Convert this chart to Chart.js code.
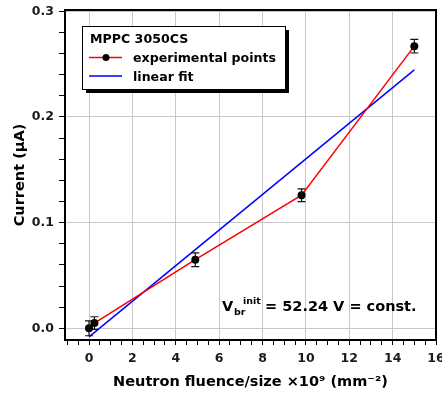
<!DOCTYPE html>
<html>
<head>
<meta charset="utf-8">
<script src="https://cdn.jsdelivr.net/npm/chart.js@4.4.0/dist/chart.umd.min.js"></script>
<style>
html, body { margin: 0; padding: 0; background: #fff; }
</style>
</head>
<body>
<canvas id="mppcChart" width="442" height="394"></canvas>
<script>
// values
const fluence = [0, 0.25, 4.9, 9.8, 15.0];
const current = [0.000, 0.005, 0.065, 0.126, 0.267];
const currentErr = [0.007, 0.006, 0.0065, 0.006, 0.0065];
const fitFluence = [0, 15];
const fitCurrent = [-0.008, 0.2445];
const xTickLabels = [0, 2, 4, 6, 8, 10, 12, 14, 16];
const yTickLabels = [0.0, 0.1, 0.2, 0.3];
const legendTitle = 'MPPC 3050CS';

const FONT = 'DejaVu Sans';

const isMajor = (v, list) => list.some(t => Math.abs(t - v) < 1e-6);

let expPoints = [];
for (let i = 0; i < fluence.length; i++) {
    expPoints.push({ x: fluence[i], y: current[i] });
}
let fitPoints = [];
for (let i = 0; i < fitFluence.length; i++) {
    fitPoints.push({ x: fitFluence[i], y: fitCurrent[i] });
}

const errorBars = {
    id: 'errorBars',
    afterDatasetsDraw(chart) {
        const { ctx, scales: { x, y } } = chart;
        ctx.save();
        ctx.strokeStyle = '#111';
        ctx.lineWidth = 1.2;
        for (let i = 0; i < fluence.length; i++) {
            const px = x.getPixelForValue(fluence[i]);
            const top = y.getPixelForValue(current[i] + currentErr[i]);
            const bot = y.getPixelForValue(current[i] - currentErr[i]);
            ctx.beginPath();
            ctx.moveTo(px, top); ctx.lineTo(px, bot);
            ctx.moveTo(px - 4, top); ctx.lineTo(px + 4, top);
            ctx.moveTo(px - 4, bot); ctx.lineTo(px + 4, bot);
            ctx.stroke();
        }
        ctx.restore();
    }
};

const frameAndText = {
    id: 'frameAndText',
    afterDraw(chart) {
        const { ctx, chartArea: a } = chart;
        ctx.save();
        // plot frame
        ctx.strokeStyle = '#000';
        ctx.lineWidth = 2;
        ctx.strokeRect(a.left, a.top, a.right - a.left, a.bottom - a.top);

        // legend box with shadow
        const lx = 82, ly = 26, lw = 203, lh = 63;
        ctx.fillStyle = '#000';
        ctx.fillRect(lx + 4, ly + 4, lw, lh);
        ctx.fillStyle = '#fff';
        ctx.fillRect(lx, ly, lw, lh);
        ctx.lineWidth = 1;
        ctx.strokeRect(lx + 0.5, ly + 0.5, lw, lh);

        ctx.fillStyle = '#000';
        ctx.textBaseline = 'alphabetic';
        ctx.font = 'bold 12.6px "' + FONT + '"';
        ctx.fillText(legendTitle, 90, 43);

        const ds = chart.data.datasets;
        const rows = [57.5, 76];
        for (let i = 0; i < ds.length; i++) {
            ctx.strokeStyle = ds[i].borderColor;
            ctx.lineWidth = 1.5;
            ctx.beginPath();
            ctx.moveTo(89, rows[i]); ctx.lineTo(122, rows[i]);
            ctx.stroke();
            if (ds[i].pointRadius > 0) {
                ctx.fillStyle = '#000';
                ctx.beginPath();
                ctx.arc(106, rows[i], 3.5, 0, Math.PI * 2);
                ctx.fill();
            }
            ctx.fillStyle = '#000';
            ctx.fillText(ds[i].label, 133, rows[i] + 4.5);
        }

        // V_br^init annotation
        ctx.font = 'bold 14.5px "' + FONT + '"';
        ctx.fillText('V', 222, 311);
        ctx.font = 'bold 9.5px "' + FONT + '"';
        ctx.fillText('br', 234, 315);
        ctx.fillText('init', 243, 304);
        ctx.font = 'bold 14.5px "' + FONT + '"';
        ctx.fillText('= 52.24 V = const.', 265, 311);
        ctx.restore();
    }
};

const labelFont = { family: FONT, weight: 'bold', size: 12.5 };
const titleFont = { family: FONT, weight: 'bold', size: 14.5 };

new Chart(document.getElementById('mppcChart'), {
    type: 'scatter',
    data: {
        datasets: [
            {
                label: 'experimental points',
                data: expPoints,
                showLine: true,
                borderColor: '#ff0000',
                borderWidth: 1.5,
                backgroundColor: '#000',
                pointRadius: 4,
                pointBorderWidth: 0
            },
            {
                label: 'linear fit',
                data: fitPoints,
                showLine: true,
                borderColor: '#0000ff',
                borderWidth: 1.5,
                pointRadius: 0
            }
        ]
    },
    options: {
        responsive: false,
        animation: false,
        devicePixelRatio: 1,
        layout: { padding: { top: 10, right: 6, left: 0, bottom: 0 } },
        plugins: { legend: { display: false }, tooltip: { enabled: false } },
        scales: {
            x: {
                type: 'linear',
                min: -1.107,
                max: 16,
                afterFit(s) { s.height = 54; s.paddingLeft = 0; s.paddingRight = 0; },
                border: { display: false },
                grid: {
                    color: c => isMajor(c.tick.value, xTickLabels) ? '#c8c8c8' : 'rgba(0,0,0,0)',
                    tickColor: '#000',
                    tickLength: 5
                },
                ticks: {
                    stepSize: 0.5,
                    autoSkip: false,
                    includeBounds: false,
                    maxRotation: 0,
                    padding: 6,
                    color: '#1a1a1a',
                    font: labelFont,
                    callback: v => isMajor(v, xTickLabels) ? String(Math.round(v)) : ''
                },
                title: {
                    display: true,
                    text: 'Neutron fluence/size \u00d710\u2079 (mm\u207b\u00b2)',
                    color: '#000',
                    font: titleFont,
                    padding: { top: 0, bottom: 3 }
                }
            },
            y: {
                min: -0.011,
                max: 0.3012,
                afterFit(s) { s.width = 65; s.paddingTop = 0; s.paddingBottom = 0; },
                border: { display: false },
                grid: {
                    color: c => isMajor(c.tick.value, yTickLabels) ? '#c8c8c8' : 'rgba(0,0,0,0)',
                    tickColor: '#000',
                    tickLength: 6
                },
                ticks: {
                    stepSize: 0.02,
                    autoSkip: false,
                    includeBounds: false,
                    padding: 5,
                    color: '#1a1a1a',
                    font: labelFont,
                    callback: v => isMajor(v, yTickLabels) ? Math.abs(v).toFixed(1) : ''
                },
                title: {
                    display: true,
                    text: 'Current (\u03bcA)',
                    color: '#000',
                    font: titleFont,
                    padding: { top: 12, bottom: 0 }
                }
            }
        }
    },
    plugins: [errorBars, frameAndText]
});
</script>
</body>
</html>
